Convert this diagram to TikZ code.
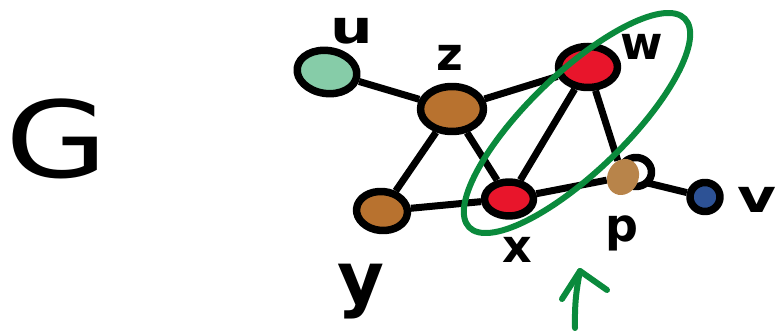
\documentclass[tikz,border=0pt]{standalone}
\usepackage{fontspec}
\setmainfont{DejaVu Sans}
\usetikzlibrary{shapes.geometric,backgrounds}
\definecolor{tealc}{HTML}{86CCA8}
\definecolor{brownc}{HTML}{B8722F}
\definecolor{brownp}{HTML}{B8844A}
\definecolor{redc}{HTML}{E8152B}
\definecolor{bluec}{HTML}{2D5295}
\definecolor{grn}{HTML}{0A8A3C}
\begin{document}
\begin{tikzpicture}[x=1pt,y=1pt,line cap=round,line join=round,
  vtx/.style={ellipse,draw=black,line width=7.5pt,inner sep=0pt},
  edge/.style={line width=7pt},
  lbl/.style={font=\fontsize{46}{46}\selectfont\bfseries,inner sep=0pt},
  hl/.style={draw=grn,line width=6pt}]
\useasboundingbox (0,0) rectangle (780,-331);
% vertices
\node[vtx,fill=tealc,minimum width=60,minimum height=43,rotate=-8] (u) at (327,-72) {};
\node[vtx,fill=brownc,minimum width=63,minimum height=45] (z) at (452,-109) {};
\node[vtx,fill=redc,minimum width=59,minimum height=41] (w) at (588,-67) {};
\node[vtx,fill=brownc,minimum width=51,minimum height=39,rotate=-5] (y) at (382,-211) {};
\node[vtx,fill=redc,minimum width=49,minimum height=34] (x) at (509,-199) {};
\node[vtx,fill=white,minimum width=31,minimum height=29] (pout) at (636,-172) {};
\node[ellipse,fill=brownp,inner sep=0pt,minimum width=31,minimum height=37,rotate=-25] (p) at (623,-177) {};
\node[vtx,fill=bluec,minimum width=30,minimum height=29] (v) at (705,-197) {};
% edges
\begin{pgfonlayer}{background}
\draw[edge] (u) -- (z);
\draw[edge] (z) -- (w);
\draw[edge] (z) -- (y);
\draw[edge] (z) -- (x);
\draw[edge] (w) -- (x);
\draw[edge] (w) -- (p);
\draw[edge] (y) -- (x);
\draw[edge] (x) -- (p);
\draw[edge] (p) -- (v);
\end{pgfonlayer}
% labels
\node[lbl] (lu) at (352,-31) {\scalebox{1.3}[1]{u}};
\node[lbl] (lz) at (450,-58) {z};
\node[lbl] (lw) at (642,-47) {w};
\node[lbl] (lp) at (622,-233) {p};
\node[lbl] (lx) at (517,-250) {x};
\node[lbl] (lv) at (757,-200) {\scalebox{1.3}[1]{v}};
\node[font=\fontsize{72}{72}\selectfont\bfseries,inner sep=0pt] (ly) at (361,-292) {y};
\node[font=\fontsize{106}{106}\selectfont,inner sep=0pt] (G) at (57,-139) {\scalebox{1.25}[1]{G}};
% highlight
\node[ellipse,hl,fill=none,minimum width=300,minimum height=98,rotate=44] (grp) at (577,-123) {};
\coordinate (a0) at (575,-328);
\coordinate (a1) at (580,-271);
\coordinate (al) at (562,-299);
\coordinate (ar) at (607,-290);
\draw[hl] (a0) to[bend left=6] (a1);
\draw[hl] (al) -- (a1) -- (ar);
\end{tikzpicture}
\end{document}
